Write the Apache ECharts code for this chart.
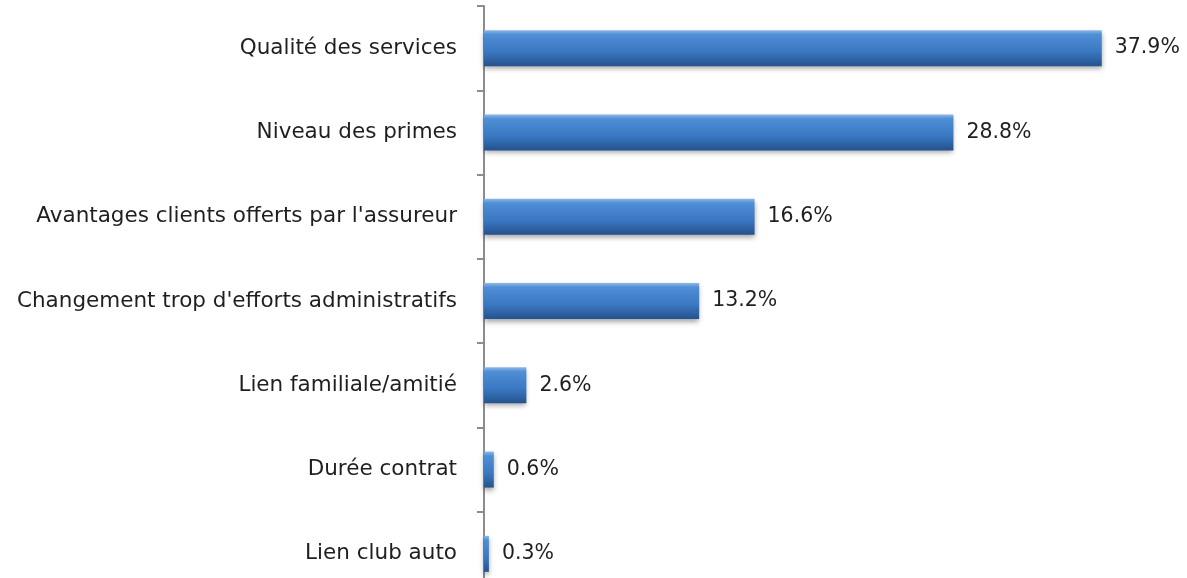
<!DOCTYPE html>
<html>
<head>
<meta charset="utf-8">
<script src="https://cdn.jsdelivr.net/npm/echarts@6/dist/echarts.min.js"></script>
<style>
  html, body { margin: 0; padding: 0; background: #fff; }
  #chart { width: 1187px; height: 578px; }
</style>
</head>
<body>
<div id="chart"></div>
<script>
// catégories (de haut en bas) et pourcentages
const categories = [
  'Qualité des services',
  'Niveau des primes',
  "Avantages clients offerts par l'assureur",
  "Changement trop d'efforts administratifs",
  'Lien familiale/amitié',
  'Durée contrat',
  'Lien club auto'
];
const values = [37.9, 28.8, 16.6, 13.2, 2.6, 0.6, 0.3];

const chart = echarts.init(document.getElementById('chart'));

const barColor = new echarts.graphic.LinearGradient(0, 0, 0, 1, [
  { offset: 0, color: '#8fb8e8' },
  { offset: 0.12, color: '#4f8fd6' },
  { offset: 0.6, color: '#3a78c2' },
  { offset: 1, color: '#25528c' }
]);

const option = {
  animation: false,
  grid: { left: 484, right: 51, top: 6, height: 590, outerBoundsMode: 'none' },
  xAxis: {
    type: 'value',
    min: 0,
    max: 40,
    show: false
  },
  yAxis: {
    type: 'category',
    inverse: true,
    data: categories,
    axisLine: { show: true, lineStyle: { color: '#8c8c8c', width: 2 } },
    axisTick: { show: true, length: 7, lineStyle: { color: '#8c8c8c', width: 2 } },
    axisLabel: {
      margin: 27,
      fontFamily: 'DejaVu Sans',
      fontSize: 21.5,
      color: '#1f1f1f'
    }
  },
  series: [{
    type: 'bar',
    data: values,
    barWidth: 36,
    itemStyle: {
      color: barColor,
      shadowColor: 'rgba(0,0,0,0.35)',
      shadowBlur: 5,
      shadowOffsetY: 3
    },
    label: {
      show: true,
      position: 'right',
      distance: 13,
      formatter: p => p.value.toFixed(1) + '%',
      fontFamily: 'DejaVu Sans',
      fontSize: 20.5,
      color: '#1f1f1f'
    }
  }]
};

chart.setOption(option);
</script>
</body>
</html>
